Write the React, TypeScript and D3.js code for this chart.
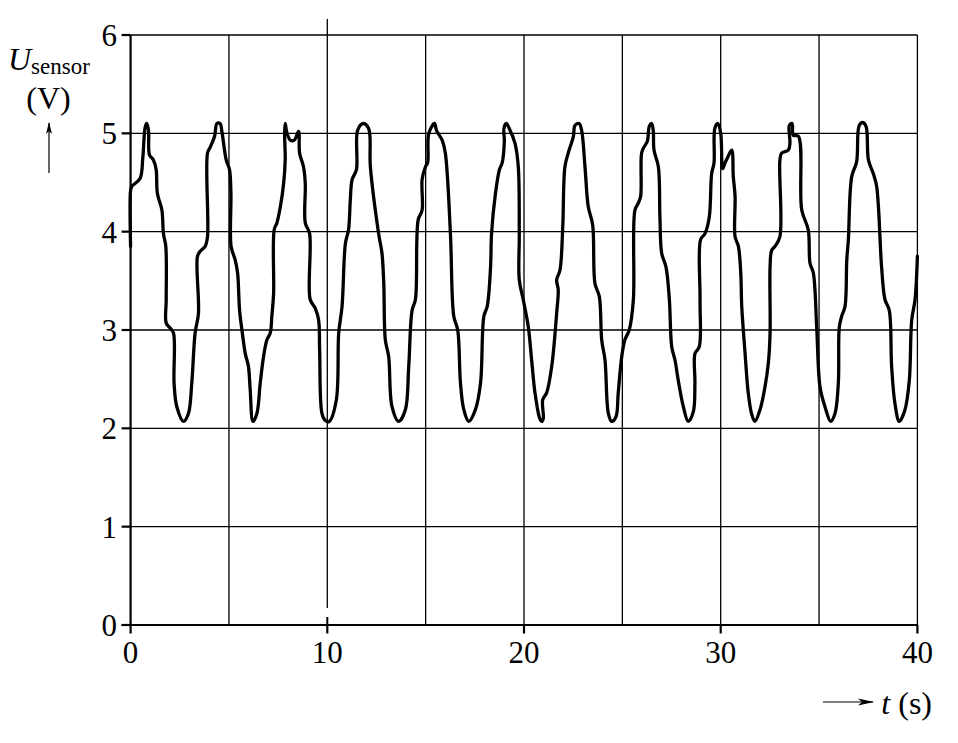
import React from "react";
import * as d3 from "d3";

const tValues: number[] = [
  0.0, 0.0, 0.06, 0.48, 0.62, 0.74, 0.82, 0.91, 0.96, 1.16, 1.3, 1.36, 1.59, 1.67, 1.79, 1.81, 1.81, 2.01, 2.18, 2.21,
  2.35, 2.69, 2.94, 3.11, 3.28, 3.45, 3.4, 3.54, 3.79, 3.91, 3.91, 4.05, 4.27, 4.39, 4.55, 4.64, 4.86, 5.03, 5.1, 5.11,
  5.32, 5.44, 5.54, 5.66, 5.83, 5.99, 6.08, 6.22, 6.42, 6.59, 6.76, 6.93, 7.1, 7.18, 7.27, 7.3, 7.44, 7.61, 7.78, 7.86,
  7.83, 7.86, 7.93, 8.12, 8.32, 8.54, 8.59, 8.79, 8.88, 8.88, 9.1, 9.13, 9.39, 9.56, 9.61, 9.73, 9.9, 10.1, 10.46, 10.58,
  10.75, 10.92, 11.08, 11.17, 11.26, 11.48, 11.54, 11.82, 12.1, 12.19, 12.61, 12.78, 12.87, 12.95, 13.12, 13.29, 13.63,
  13.97, 14.14, 14.31, 14.48, 14.62, 14.82, 14.82, 14.99, 15.1, 15.16, 15.45, 15.55, 15.84, 16.0, 16.26, 16.43, 16.63,
  16.77, 16.94, 17.19, 17.53, 17.79, 17.96, 18.13, 18.3, 18.35, 18.55, 18.75, 18.89, 19.0, 18.98, 19.1, 19.25, 19.54,
  19.71, 19.76, 19.76, 19.96, 20.22, 20.39, 20.56, 20.8, 20.9, 20.98, 20.95, 21.15, 21.41, 21.66, 21.74, 21.66, 21.83,
  21.97, 22.08, 22.25, 22.51, 22.59, 22.8, 22.93, 23.1, 23.27, 23.49, 23.61, 23.83, 23.95, 24.12, 24.29, 24.46, 24.68,
  24.79, 24.97, 25.13, 25.35, 25.56, 25.64, 25.81, 25.93, 25.98, 26.1, 26.27, 26.37, 26.49, 26.57, 26.61, 26.83, 26.91,
  27.0, 27.22, 27.39, 27.51, 27.68, 27.84, 28.1, 28.35, 28.61, 28.69, 28.69, 28.91, 28.95, 28.98, 29.2, 29.42, 29.54,
  29.66, 29.7, 29.85, 30.0, 30.1, 30.22, 30.34, 30.56, 30.64, 30.73, 30.73, 30.9, 31.02, 31.07, 31.24, 31.4, 31.58,
  31.74, 32.0, 32.25, 32.42, 32.51, 32.51, 32.59, 32.76, 33.01, 33.01, 33.1, 33.44, 33.52, 33.49, 33.63, 33.69, 33.95,
  34.12, 34.45, 34.54, 34.71, 34.88, 35.05, 35.3, 35.59, 35.81, 35.98, 36.03, 36.15, 36.32, 36.41, 36.49, 36.66, 36.91,
  37.04, 37.22, 37.39, 37.51, 37.76, 37.93, 38.18, 38.35, 38.57, 38.69, 38.86, 39.08, 39.37, 39.59, 39.71, 39.88, 40.0,
];

const uValues: number[] = [
  3.85, 4.42, 4.46, 4.54, 4.75, 5.06, 5.1, 5.03, 4.78, 4.73, 4.63, 4.39, 4.22, 3.98, 3.85, 3.31, 3.07, 3.02, 2.97, 2.46,
  2.22, 2.07, 2.15, 2.46, 2.97, 3.17, 3.75, 3.8, 3.85, 3.95, 4.8, 4.86, 4.97, 5.1, 5.1, 5.02, 4.73, 4.63, 4.39, 3.85,
  3.71, 3.58, 3.2, 3.0, 2.76, 2.63, 2.39, 2.07, 2.15, 2.46, 2.73, 2.9, 2.97, 3.14, 3.37, 4.02, 4.09, 4.25, 4.49, 4.73,
  5.0, 5.1, 5.02, 4.93, 4.93, 5.02, 4.8, 4.66, 4.49, 4.09, 3.98, 3.31, 3.22, 3.1, 2.8, 2.15, 2.08, 2.07, 2.29, 2.97,
  3.24, 3.88, 4.02, 4.32, 4.53, 4.63, 5.03, 5.1, 5.05, 4.66, 3.98, 3.78, 3.48, 2.9, 2.73, 2.22, 2.07,
  2.19, 2.63, 3.2, 3.31, 4.12, 4.22, 4.53, 4.66, 4.7, 5.0, 5.1, 5.03, 4.93, 4.8, 3.98, 3.14, 3.0,
  2.46, 2.19, 2.07, 2.19, 2.46, 3.14, 3.24, 3.64, 3.98, 4.39, 4.63, 4.7, 4.92, 5.05, 5.1, 5.05, 4.9,
  4.66, 3.98, 3.51, 3.31, 3.03, 2.69, 2.36, 2.1, 2.07, 2.1, 2.29, 2.36, 2.63, 3.17, 3.41, 3.51, 3.61,
  4.05, 4.66, 4.8, 4.97, 5.08, 5.1, 5.03, 4.66, 4.25, 4.07, 3.47, 3.34, 2.9, 2.69, 2.15, 2.07, 2.12,
  2.36, 2.73, 2.9, 3.0, 3.31, 4.22, 4.29, 4.36, 4.8, 4.86, 4.92, 5.07, 5.1, 5.03, 4.83, 4.66, 4.15,
  3.78, 3.64, 3.31, 2.83, 2.69, 2.49, 2.22, 2.07, 2.17, 2.46, 2.76, 2.83, 3.31, 3.92, 3.98, 4.15, 4.59,
  4.7, 5.05, 5.1, 5.0, 4.64, 4.7, 4.75, 4.83, 4.56, 4.36, 3.95, 3.85, 3.58, 3.24, 2.76, 2.36, 2.14,
  2.07, 2.19, 2.42, 2.66, 2.97, 3.64, 3.81, 3.85, 3.95, 4.73, 4.8, 4.83, 4.9, 5.08, 5.1, 4.98, 4.97,
  4.22, 4.02, 3.68, 3.58, 3.03, 2.42, 2.22, 2.07, 2.15, 2.46, 3.03, 3.14, 3.24, 3.71, 3.92, 4.56, 4.71,
  5.08, 5.11, 5.07, 4.73, 4.59, 4.46, 3.64, 3.31, 3.2, 2.63, 2.25, 2.07, 2.19, 2.49, 3.1, 3.31, 3.75,
];

const xTickValues: number[] = [0, 10, 20, 30, 40];
const xGridValues: number[] = [5, 10, 15, 20, 25, 30, 35, 40];
const yTickValues: number[] = [0, 1, 2, 3, 4, 5, 6];

const W = 958;
const H = 743;
const FONT = "'Liberation Serif', 'Times New Roman', serif";

export default function App() {
  const x = d3.scaleLinear().domain([0, 40]).range([130.6, 917.4]);
  const y = d3.scaleLinear().domain([0, 6]).range([625, 35]);

  const pts: [number, number][] = tValues.map((t, i) => [t, uValues[i]]);
  const line = d3
    .line<[number, number]>()
    .x((d) => x(d[0]))
    .y((d) => y(d[1]))
    .curve(d3.curveCatmullRom.alpha(0.5));

  const x0 = x(0);
  const y0 = y(0);
  const yTop = y(6);

  return (
    <svg
      width={W}
      height={H}
      viewBox={`0 0 ${W} ${H}`}
      style={{ position: "absolute", left: 0, top: 0, background: "#fff" }}
    >
      <defs>
        <marker id="arrowX" viewBox="0 0 16 8" refX="15" refY="4" markerWidth="16" markerHeight="8" markerUnits="userSpaceOnUse" orient="auto">
          <path d="M0,0.5 L16,4 L0,7.5 L4,4 Z" fill="#000" />
        </marker>
        <marker id="arrowY" viewBox="0 0 12 7" refX="11" refY="3.5" markerWidth="12" markerHeight="7" markerUnits="userSpaceOnUse" orient="auto">
          <path d="M0,0.5 L12,3.5 L0,6.5 L3,3.5 Z" fill="#000" />
        </marker>
      </defs>
      <rect width={W} height={H} fill="#fff" />

      {/* horizontal grid */}
      {yTickValues.filter((v) => v > 0).map((v) => (
        <line key={`hg${v}`} x1={x0} x2={x(40)} y1={y(v)} y2={y(v)} stroke="#000" strokeWidth={1.3} />
      ))}
      {/* vertical grid */}
      {xGridValues.map((v) =>
        v === 10 ? (
          <g key={`vg${v}`}>
            <line x1={x(v)} x2={x(v)} y1={19} y2={608} stroke="#000" strokeWidth={1.3} />
            <line x1={x(v)} x2={x(v)} y1={617} y2={y0} stroke="#000" strokeWidth={2} />
          </g>
        ) : (
          <line key={`vg${v}`} x1={x(v)} x2={x(v)} y1={yTop} y2={y0} stroke="#000" strokeWidth={1.3} />
        )
      )}

      {/* axes */}
      <line x1={x0} x2={x0} y1={yTop} y2={y0} stroke="#000" strokeWidth={2.2} />
      <line x1={x0 - 9} x2={x(40)} y1={y0} y2={y0} stroke="#000" strokeWidth={2.2} />
      {yTickValues.map((v) => (
        <line key={`yt${v}`} x1={x0 - 9} x2={x0} y1={y(v)} y2={y(v)} stroke="#000" strokeWidth={2.2} />
      ))}
      {xTickValues.map((v) => (
        <line key={`xt${v}`} x1={x(v)} x2={x(v)} y1={y0} y2={y0 + 8.5} stroke="#000" strokeWidth={2.2} />
      ))}

      {/* tick labels */}
      {yTickValues.map((v) => (
        <text key={`yl${v}`} x={117} y={y(v) + 11} textAnchor="end" fontFamily={FONT} fontSize={31} fill="#000">
          {v}
        </text>
      ))}
      {xTickValues.map((v) => (
        <text key={`xl${v}`} x={x(v)} y={663} textAnchor="middle" fontFamily={FONT} fontSize={31} fill="#000">
          {v}
        </text>
      ))}

      {/* data curve */}
      <path d={line(pts) || ""} fill="none" stroke="#000" strokeWidth={3.3} strokeLinejoin="round" strokeLinecap="round" />

      {/* y axis label */}
      <text x={8} y={70} fontFamily={FONT} fontSize={32} fill="#000">
        <tspan fontStyle="italic">U</tspan>
        <tspan fontSize={23} dy={4}>sensor</tspan>
      </text>
      <text x={48.5} y={109} textAnchor="middle" fontFamily={FONT} fontSize={32} fill="#000">
        (V)
      </text>
      <line x1={49} x2={49} y1={173} y2={123} stroke="#000" strokeWidth={1.2} markerEnd="url(#arrowY)" />

      {/* x axis label */}
      <line x1={823} x2={873} y1={702} y2={702} stroke="#000" strokeWidth={1.2} markerEnd="url(#arrowX)" />
      <text x={932} y={714} textAnchor="end" fontFamily={FONT} fontSize={32} fill="#000">
        <tspan fontStyle="italic">t</tspan>
        <tspan> (s)</tspan>
      </text>
    </svg>
  );
}
